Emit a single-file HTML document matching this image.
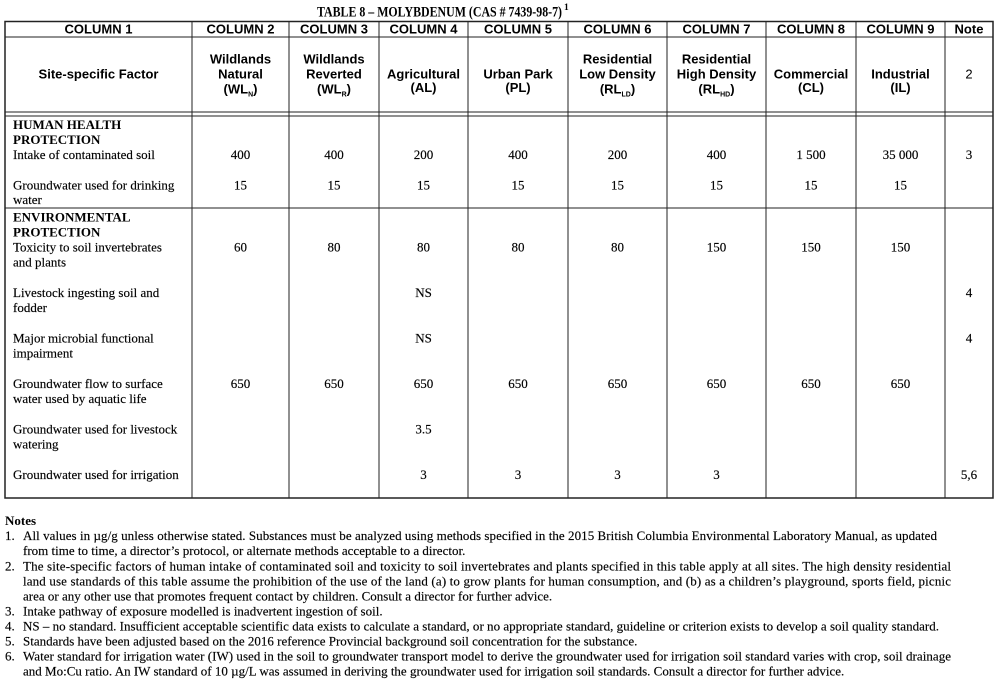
<!DOCTYPE html>
<html><head><meta charset="utf-8"><style>
html,body{margin:0;padding:0;background:#fff;}
svg{display:block;}
.h{font-family:"Liberation Sans",Arial,sans-serif;font-weight:bold;font-size:13px;fill:#000;}
.t{font-family:"Liberation Serif","Times New Roman",serif;font-size:13px;fill:#000;stroke:#000;stroke-width:0.15px;}
.b{font-family:"Liberation Serif","Times New Roman",serif;font-size:13px;font-weight:bold;fill:#000;}
.c{text-anchor:middle;}
</style></head><body>
<svg width="1000" height="685" viewBox="0 0 1000 685" xmlns="http://www.w3.org/2000/svg">
<!-- title -->
<text x="317" y="16.5" font-family="Liberation Serif, Times New Roman, serif" font-weight="bold" font-size="14.5" textLength="245" lengthAdjust="spacingAndGlyphs">TABLE 8 – MOLYBDENUM (CAS # 7439-98-7)</text>
<text x="564" y="10" font-family="Liberation Serif, Times New Roman, serif" font-weight="bold" font-size="9.5">1</text>

<!-- grid -->
<g stroke="#222" stroke-width="1" fill="none">
<rect x="5" y="21.5" width="988" height="476.5" stroke-width="1.5"/>
<line x1="5" y1="37" x2="993" y2="37"/>
<line x1="5" y1="112" x2="993" y2="112"/>
<line x1="5" y1="116" x2="993" y2="116"/>
<line x1="5" y1="208" x2="993" y2="208"/>
<line x1="192" y1="21.5" x2="192" y2="498"/>
<line x1="289" y1="21.5" x2="289" y2="498"/>
<line x1="379" y1="21.5" x2="379" y2="498"/>
<line x1="468" y1="21.5" x2="468" y2="498"/>
<line x1="568" y1="21.5" x2="568" y2="498"/>
<line x1="667" y1="21.5" x2="667" y2="498"/>
<line x1="766" y1="21.5" x2="766" y2="498"/>
<line x1="856" y1="21.5" x2="856" y2="498"/>
<line x1="945" y1="21.5" x2="945" y2="498"/>
</g>

<!-- header row 1 -->
<g class="h c">
<text x="98.5" y="33.5">COLUMN 1</text>
<text x="240.5" y="33.5">COLUMN 2</text>
<text x="334" y="33.5">COLUMN 3</text>
<text x="423.5" y="33.5">COLUMN 4</text>
<text x="518" y="33.5">COLUMN 5</text>
<text x="617.5" y="33.5">COLUMN 6</text>
<text x="716.5" y="33.5">COLUMN 7</text>
<text x="811" y="33.5">COLUMN 8</text>
<text x="900.5" y="33.5">COLUMN 9</text>
<text x="969" y="33.5">Note</text>
</g>

<!-- header row 2 -->
<g class="h c">
<text x="98.5" y="78.5">Site-specific Factor</text>
<text x="240.5" y="63.5">Wildlands</text>
<text x="240.5" y="78.5">Natural</text>
<text x="240.5" y="93.5">(WL<tspan font-size="7" dy="3">N</tspan><tspan dy="-3">)</tspan></text>
<text x="334" y="63.5">Wildlands</text>
<text x="334" y="78.5">Reverted</text>
<text x="334" y="93.5">(WL<tspan font-size="7" dy="3">R</tspan><tspan dy="-3">)</tspan></text>
<text x="423.5" y="78.5">Agricultural</text>
<text x="423.5" y="92">(AL)</text>
<text x="518" y="78.5">Urban Park</text>
<text x="518" y="92">(PL)</text>
<text x="617.5" y="63.5">Residential</text>
<text x="617.5" y="78.5">Low Density</text>
<text x="617.5" y="93.5">(RL<tspan font-size="7" dy="3">LD</tspan><tspan dy="-3">)</tspan></text>
<text x="716.5" y="63.5">Residential</text>
<text x="716.5" y="78.5">High Density</text>
<text x="716.5" y="93.5">(RL<tspan font-size="7" dy="3">HD</tspan><tspan dy="-3">)</tspan></text>
<text x="811" y="78.5">Commercial</text>
<text x="811" y="92">(CL)</text>
<text x="900.5" y="78.5">Industrial</text>
<text x="900.5" y="92">(IL)</text>
<text x="969" y="78.5" font-weight="normal">2</text>
</g>

<!-- body col 1 -->
<g>
<text class="b" x="13" y="129">HUMAN HEALTH</text>
<text class="b" x="13" y="144">PROTECTION</text>
<text class="t" x="13" y="159">Intake of contaminated soil</text>
<text class="t" x="13" y="189.5">Groundwater used for drinking</text>
<text class="t" x="13" y="204">water</text>
<text class="b" x="13" y="221.5">ENVIRONMENTAL</text>
<text class="b" x="13" y="236.5">PROTECTION</text>
<text class="t" x="13" y="251.5">Toxicity to soil invertebrates</text>
<text class="t" x="13" y="266.5">and plants</text>
<text class="t" x="13" y="297">Livestock ingesting soil and</text>
<text class="t" x="13" y="312">fodder</text>
<text class="t" x="13" y="342.5">Major microbial functional</text>
<text class="t" x="13" y="357.5">impairment</text>
<text class="t" x="13" y="388">Groundwater flow to surface</text>
<text class="t" x="13" y="403">water used by aquatic life</text>
<text class="t" x="13" y="433.5">Groundwater used for livestock</text>
<text class="t" x="13" y="448.5">watering</text>
<text class="t" x="13" y="479">Groundwater used for irrigation</text>
</g>

<!-- values -->
<g class="t c">
<text x="240.5" y="159">400</text><text x="334" y="159">400</text><text x="423.5" y="159">200</text><text x="518" y="159">400</text><text x="617.5" y="159">200</text><text x="716.5" y="159">400</text><text x="811" y="159">1 500</text><text x="900.5" y="159">35 000</text><text x="969" y="159">3</text>
<text x="240.5" y="189.5">15</text><text x="334" y="189.5">15</text><text x="423.5" y="189.5">15</text><text x="518" y="189.5">15</text><text x="617.5" y="189.5">15</text><text x="716.5" y="189.5">15</text><text x="811" y="189.5">15</text><text x="900.5" y="189.5">15</text>
<text x="240.5" y="251.5">60</text><text x="334" y="251.5">80</text><text x="423.5" y="251.5">80</text><text x="518" y="251.5">80</text><text x="617.5" y="251.5">80</text><text x="716.5" y="251.5">150</text><text x="811" y="251.5">150</text><text x="900.5" y="251.5">150</text>
<text x="423.5" y="297">NS</text><text x="969" y="297">4</text>
<text x="423.5" y="342.5">NS</text><text x="969" y="342.5">4</text>
<text x="240.5" y="388">650</text><text x="334" y="388">650</text><text x="423.5" y="388">650</text><text x="518" y="388">650</text><text x="617.5" y="388">650</text><text x="716.5" y="388">650</text><text x="811" y="388">650</text><text x="900.5" y="388">650</text>
<text x="423.5" y="433.5">3.5</text>
<text x="423.5" y="479">3</text><text x="518" y="479">3</text><text x="617.5" y="479">3</text><text x="716.5" y="479">3</text><text x="969" y="479">5,6</text>
</g>

<!-- notes -->
<g>
<text class="b" x="5" y="525">Notes</text>
<text class="t" x="5" y="540">1.</text>
<text class="t" x="23" y="540" textLength="914" lengthAdjust="spacing">All values in µg/g unless otherwise stated.  Substances must be analyzed using methods specified in the 2015 British Columbia Environmental Laboratory Manual, as updated</text>
<text class="t" x="23" y="555">from time to time, a director’s protocol, or alternate methods acceptable to a director.</text>
<text class="t" x="5" y="570.5">2.</text>
<text class="t" x="23" y="570.5" textLength="928" lengthAdjust="spacing">The site-specific factors of human intake of contaminated soil and toxicity to soil invertebrates and plants specified in this table apply at all sites.  The high density residential</text>
<text class="t" x="23" y="585.5" textLength="928" lengthAdjust="spacing">land use standards of this table assume the prohibition of the use of the land (a) to grow plants for human consumption, and (b) as a children’s playground, sports field, picnic</text>
<text class="t" x="23" y="600.5">area or any other use that promotes frequent contact by children.  Consult a director for further advice.</text>
<text class="t" x="5" y="615.5">3.</text>
<text class="t" x="23" y="615.5">Intake pathway of exposure modelled is inadvertent ingestion of soil.</text>
<text class="t" x="5" y="630.5">4.</text>
<text class="t" x="23" y="630.5" textLength="916" lengthAdjust="spacing">NS – no standard. Insufficient acceptable scientific data exists to calculate a standard, or no appropriate standard, guideline or criterion exists to develop a soil quality standard.</text>
<text class="t" x="5" y="645.5">5.</text>
<text class="t" x="23" y="645.5">Standards have been adjusted based on the 2016 reference Provincial background soil concentration for the substance.</text>
<text class="t" x="5" y="660.5">6.</text>
<text class="t" x="23" y="660.5" textLength="928" lengthAdjust="spacing">Water standard for irrigation water (IW) used in the soil to groundwater transport model to derive the groundwater used for irrigation soil standard varies with crop, soil drainage</text>
<text class="t" x="23" y="675.5">and Mo:Cu ratio. An IW standard of 10 µg/L was assumed in deriving the groundwater used for irrigation soil standards.  Consult a director for further advice.</text>
</g>
</svg>
</body></html>
